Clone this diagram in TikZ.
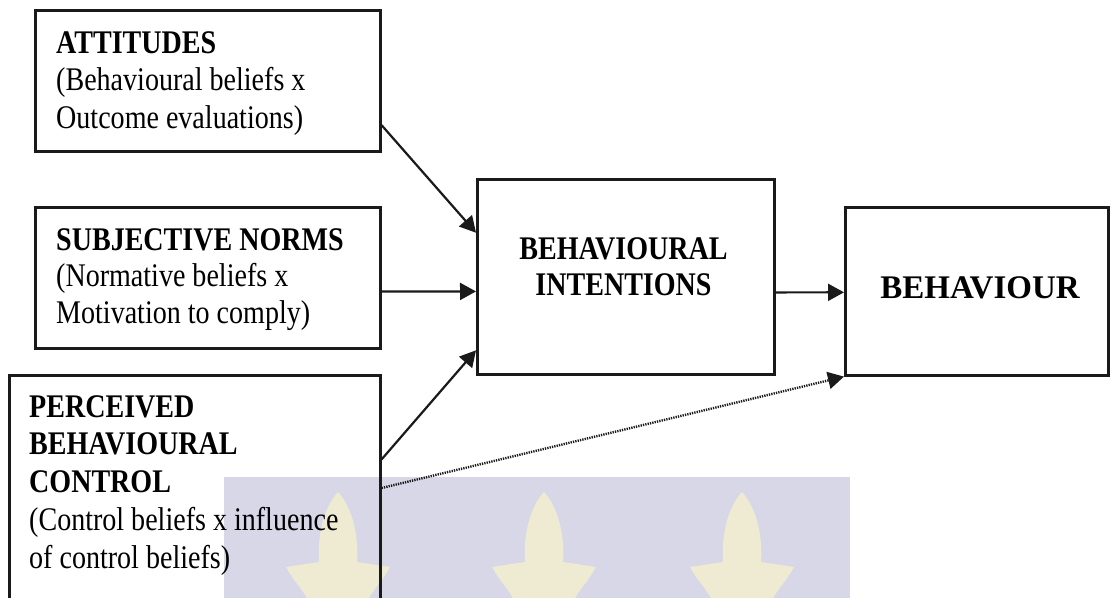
\documentclass[tikz,border=0pt]{standalone}
\usepackage{fontspec}
\setmainfont{Liberation Serif}[FakeStretch=0.85]
\newfontfamily\behfont{Liberation Serif}[FakeStretch=1.0]
\usetikzlibrary{arrows.meta,calc}
\definecolor{wmbg}{HTML}{D7D7E7}
\definecolor{wmfl}{HTML}{EFEBD2}
\definecolor{edgec}{HTML}{1A1A1A}
\tikzset{
  boxshape/.style={draw=edgec, line width=2.6pt, rectangle, inner sep=0pt, anchor=north west},
  lbl/.style={inner sep=0pt, font=\fontsize{33}{37.5}\selectfont, align=left, anchor=base west},
  clbl/.style={inner sep=0pt, font=\fontsize{33}{36}\selectfont\bfseries, align=center, anchor=base},
  conn/.style={line width=2.2pt, draw=edgec, -{Triangle[length=16pt,width=17pt]}},
  dotconn/.style={conn, dash pattern=on 1.3pt off 1.1pt, line width=2.4pt},
  flame/.style={fill=wmfl, draw=none}
}
\begin{document}
\begin{tikzpicture}[x=1pt,y=-1pt]
\useasboundingbox (0,0) rectangle (1110,597);
\clip (0,0) rectangle (1110,597);
\fill[white] (0,0) rectangle (1110,597);
% watermark
\fill[wmbg] (224,477) rectangle (850,600);
\foreach \cx in {338,544,742} {
  \fill[flame] (\cx,492) .. controls (\cx+12,505) and (\cx+21,530) .. (\cx+19,562)
    -- (\cx+52,567) .. controls (\cx+45,580) and (\cx+35,590) .. (\cx+30,600)
    -- (\cx-30,600) .. controls (\cx-35,590) and (\cx-45,580) .. (\cx-52,567)
    -- (\cx-19,562) .. controls (\cx-21,530) and (\cx-12,505) .. (\cx,492) -- cycle;
}
% boxes
\node[boxshape, minimum width=345pt, minimum height=141pt] (att) at (34,9) {};
\node[boxshape, minimum width=345pt, minimum height=141pt] (sn) at (34,206) {};
\node[boxshape, minimum width=371pt, minimum height=240pt] (pbc) at (8,374) {};
\node[boxshape, minimum width=297pt, minimum height=195pt] (bi) at (476,178) {};
\node[boxshape, minimum width=263pt, minimum height=168pt] (beh) at (844,206) {};
% texts (anchored at the baseline of their last line)
\node[lbl] (attT) at (56,128) {\textbf{ATTITUDES}\\(Behavioural beliefs x\\Outcome evaluations)};
\node[lbl, font=\fontsize{33}{36.5}\selectfont] (snT) at (56,323) {\textbf{SUBJECTIVE NORMS}\\(Normative beliefs x\\Motivation to comply)};
\node[lbl, font=\fontsize{33}{37.75}\selectfont] (pbcT) at (29,568) {\textbf{PERCEIVED}\\\textbf{BEHAVIOURAL}\\\textbf{CONTROL}\\(Control beliefs x influence\\of control beliefs)};
\node[clbl] (biT) at (623.5,295) {BEHAVIOURAL\\INTENTIONS};
\node[clbl, font=\fontsize{33}{36}\selectfont\behfont\bfseries] (behT) at (980,298) {BEHAVIOUR};
% connectors
\draw[conn] ($(att.north east)!0.809!(att.south east)$) -- ($(bi.north west)!0.277!(bi.south west)$);
\draw[conn] ($(sn.north east)!0.596!(sn.south east)$) -- ($(bi.north west)!0.574!(bi.south west)$);
\draw[conn] ($(pbc.north east)!0.352!(pbc.south east)$) -- ($(bi.north west)!0.872!(bi.south west)$);
\draw[conn] ($(bi.north east)!0.579!(bi.south east)$) -- ($(beh.north west)!0.506!(beh.south west)$);
\draw[dotconn] ($(pbc.north east)!0.47!(pbc.south east)$) -- (beh.south west);
\end{tikzpicture}
\end{document}
